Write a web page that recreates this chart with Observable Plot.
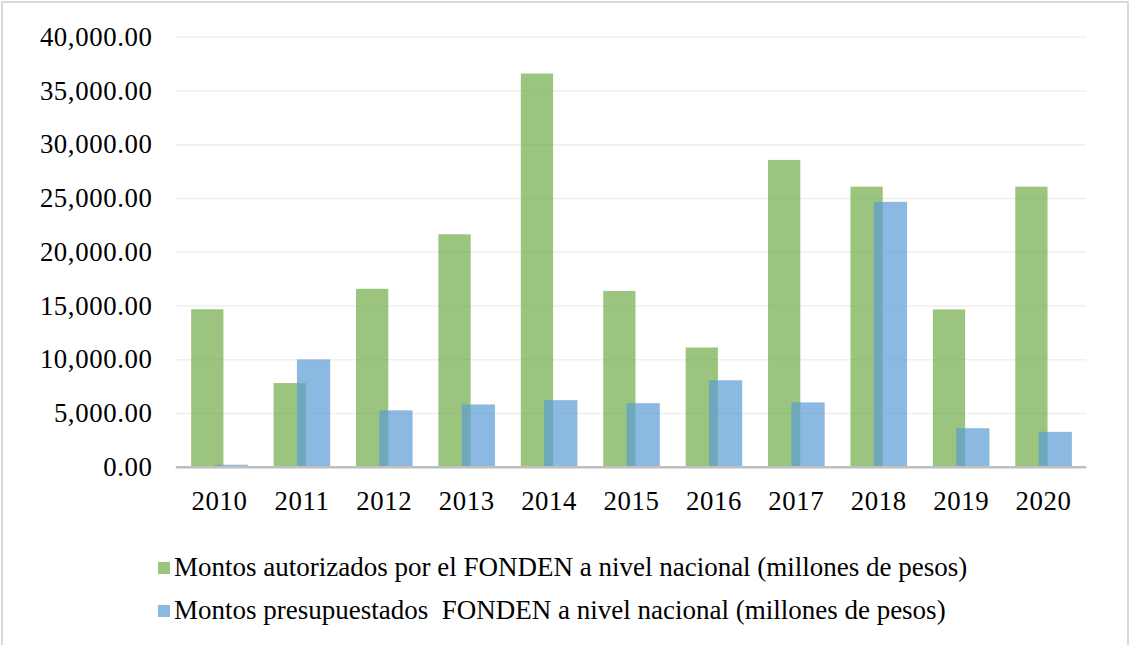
<!DOCTYPE html>
<html>
<head>
<meta charset="utf-8">
<script src="https://cdn.jsdelivr.net/npm/d3@7"></script>
<script src="https://cdn.jsdelivr.net/npm/@observablehq/plot@0.6"></script>
<style>
  html, body { margin: 0; padding: 0; background: #ffffff; }
  #frame {
    position: absolute; left: 1px; top: 1px; width: 1128px; height: 700px;
    border: 2px solid #d9d9d9; box-sizing: border-box; background: #fff;
  }
  #chart { position: absolute; left: -1px; top: -1px; }
  #chart svg text { letter-spacing: 0.6px; }
  #legend {
    position: absolute; left: 155px; top: 543px;
    font-family: "Liberation Serif", "Times New Roman", serif; font-size: 27px; color: #000;
  }
  .item { display: flex; align-items: center; height: 43px; }
  .sw { width: 12px; height: 12px; margin-right: 4px; }
</style>
</head>
<body>
<div id="frame"><div id="chart"></div><div id="legend"></div></div>
<script>
const years = ["2010","2011","2012","2013","2014","2015","2016","2017","2018","2019","2020"];
const autorizados = [14650, 7780, 16550, 21620, 36580, 16350, 11090, 28540, 26050, 14630, 26050];
const presupuestados = [180, 9980, 5240, 5790, 6190, 5910, 8040, 5980, 24640, 3580, 3240];
const yTicks = [0, 5000, 10000, 15000, 20000, 25000, 30000, 35000, 40000];
const seriesNames = [
  "Montos autorizados por el FONDEN a nivel nacional (millones de pesos)",
  "Montos presupuestados  FONDEN a nivel nacional (millones de pesos)"
];
const seriesColors = ["#70AD47", "#5B9BD5"];

const dataA = years.map((y, i) => ({year: y, value: autorizados[i]}));
const dataP = years.map((y, i) => ({year: y, value: presupuestados[i]}));

const chart = Plot.plot({
  width: 1133,
  height: 525,
  marginLeft: 175,
  marginRight: 41,
  marginTop: 35,
  marginBottom: 57,
  style: {fontFamily: "'Liberation Serif', 'Times New Roman', serif", fontSize: "27px", color: "#000", background: "transparent"},
  x: {type: "band", domain: years, padding: 0, label: null},
  y: {domain: [0, 40000], label: null},
  marks: [
    Plot.ruleY(yTicks.filter(d => d > 0), {stroke: "#efefef", strokeWidth: 1.5}),
    Plot.barY(dataA, {x: "year", y: "value", fill: seriesColors[0], fillOpacity: 0.7, insetLeft: 13.5, insetRight: 37}),
    Plot.barY(dataP, {x: "year", y: "value", fill: seriesColors[1], fillOpacity: 0.7, insetLeft: 37, insetRight: 12.5}),
    Plot.ruleY([0], {stroke: "#bfbfbf", strokeWidth: 2.5}),
    Plot.axisY({ticks: yTicks, tickFormat: d3.format(",.2f"), tickSize: 0, tickPadding: 24, label: null}),
    Plot.axisX({tickSize: 0, tickPadding: 24, label: null})
  ]
});
document.getElementById("chart").appendChild(chart);

const legend = document.getElementById("legend");
seriesNames.forEach((name, i) => {
  const item = document.createElement("div");
  item.className = "item";
  const sw = document.createElement("span");
  sw.className = "sw";
  sw.style.background = seriesColors[i];
  sw.style.opacity = 0.7;
  const t = document.createElement("span");
  t.textContent = name;
  t.style.whiteSpace = "pre";
  item.appendChild(sw); item.appendChild(t);
  legend.appendChild(item);
});
</script>
</body>
</html>
